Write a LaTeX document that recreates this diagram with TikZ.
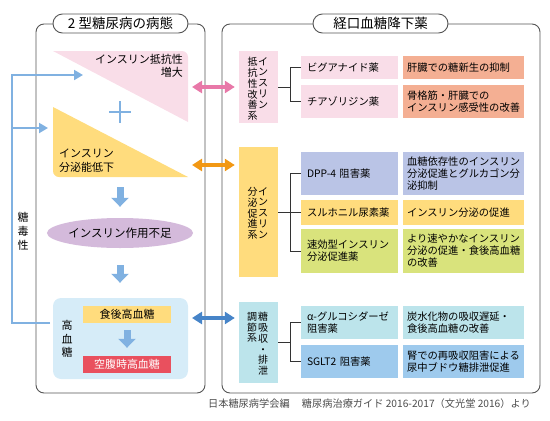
\documentclass[tikz,border=0pt]{standalone}
\usepackage{fontspec}
\setmainfont{Noto Sans CJK JP}
\usepackage{tikz}
\definecolor{mypink}{RGB}{249,221,232}
\definecolor{myyellow}{RGB}{255,220,125}
\definecolor{mysalmon}{RGB}{244,175,147}
\definecolor{mylavender}{RGB}{186,196,230}
\definecolor{mylime}{RGB}{217,227,124}
\definecolor{mycyan}{RGB}{188,228,235}
\definecolor{mysky}{RGB}{158,202,237}
\definecolor{mylightblue}{RGB}{214,236,248}
\definecolor{mypurple}{RGB}{212,186,219}
\definecolor{myred}{RGB}{233,80,94}
\definecolor{myarrowblue}{RGB}{128,177,225}
\definecolor{mypinkarrow}{RGB}{232,120,168}
\definecolor{myorange}{RGB}{242,152,20}
\definecolor{mydarkblue}{RGB}{70,132,200}
\definecolor{myframe}{RGB}{85,85,85}
\usetikzlibrary{arrows.meta,shapes.geometric,calc}

\begin{document}
\begin{tikzpicture}[x=1pt,y=-1pt,
    every node/.style={inner sep=0pt},
    panel/.style={draw=myframe,line width=0.9pt,rounded corners=8pt},
    pill/.style={draw=myframe,line width=0.9pt,fill=white,rounded corners=9.5pt,
      minimum width=135pt,minimum height=19pt,font=\fontsize{13.5}{15}\selectfont},
    drug/.style={minimum height=#1,text width=85pt,inner xsep=6pt,align=left,
      font=\fontsize{10.3}{12}\selectfont},
    effect/.style={minimum height=#1,text width=113pt,inner xsep=4pt,align=left,
      font=\fontsize{10.3}{12}\selectfont},
    catbox/.style={minimum width=39pt,minimum height=#1},
    tate/.style={align=center,font=\fontsize{10}{10.8}\selectfont},
    dblarrow/.style={line width=4pt,{Triangle[width=12pt,length=10pt]}-{Triangle[width=12pt,length=10pt]}},
    downarrow/.style={myarrowblue,line width=7pt,-{Triangle[width=17pt,length=9pt]}},
    fbline/.style={myarrowblue,line width=2pt,-{Triangle[width=10pt,length=9pt]}},
    bracket/.style={draw=black!80,line width=0.8pt}
    ]
    \useasboundingbox (0,0) rectangle (550,421);

    % the two panels
    \draw[panel] (36,24) rectangle (205,393);
    \draw[panel] (222,24) rectangle (540,393);
    \node[pill] (lefttitle) at (120.5,23.5) {2 型糖尿病の病態};
    \node[pill] (righttitle) at (380.5,23.5) {経口血糖降下薬};

    % the triangles
    \fill[mypink] (53,51) -- (180,51) [rounded corners=6pt] -- (188,51) -- (188,70)
      [sharp corners] -- (188,122) -- cycle;
    \fill[myyellow] (53,107) -- (53,160) [rounded corners=6pt] -- (53,177) -- (80,177)
      [sharp corners] -- (188,177) -- cycle;
    \node[font=\fontsize{11}{13.5}\selectfont,align=right,anchor=north east] (restext)
      at (183,54) {インスリン抵抗性\\増大};
    \node[font=\fontsize{11}{13.5}\selectfont,align=left,anchor=west] (sectext)
      at (59,160.5) {インスリン\\分泌能低下};
    \draw[myarrowblue,line width=1.3pt] (109,112) -- (131,112) (120,101) -- (120,123);
    \coordinate (tribase) at (120,177);

    % the lack of insulin
    \node[ellipse,fill=mypurple,minimum width=126pt,minimum height=30pt,
      font=\fontsize{11.5}{13}\selectfont] (lack) at (120,233) {インスリン作用不足};

    % the hyperglycemia
    \node[fill=mylightblue,rounded corners=8pt,minimum width=135pt,minimum height=81pt]
      (hgbox) at (120.5,338.5) {};
    \node[tate,font=\fontsize{11}{13.5}\selectfont] (hgtext) at (67,339) {高\\血\\糖};
    \node[fill=myyellow,minimum width=88pt,minimum height=17pt,
      font=\fontsize{11}{12}\selectfont] (post) at (127,314.5) {食後高血糖};
    \node[fill=myred,text=white,minimum width=88pt,minimum height=17pt,
      font=\fontsize{11}{12}\selectfont] (fast) at (127,364.5) {空腹時高血糖};

    \draw[downarrow,shorten <=10pt,shorten >=11pt] (tribase) -- (lack.north);
    \draw[downarrow,shorten <=17pt,shorten >=15pt] (lack.south) -- (lack.south |- hgbox.north);
    \draw[downarrow,shorten <=7pt,shorten >=8pt] (post) -- (fast);

    % the glucose toxicity
    \node[tate,font=\fontsize{11}{14}\selectfont] (toxic) at (23,231) {糖\\毒\\性};
    \coordinate (fbstart) at (50,323);
    \draw[fbline] (fbstart) -- (12,323) -- (12,75) -- (83,75);
    \draw[fbline] (12,128) -- (48,128);

    % the classes of drugs
    \node[catbox=72pt,fill=mypink] (cat1) at (258.5,87) {};
    \node[catbox=130pt,fill=myyellow] (cat2) at (258.5,212) {};
    \node[catbox=81pt,fill=mycyan] (cat3) at (258.5,342.5) {};
    \node[tate,anchor=north] (cat1r) at (263,57) {イ\\ン\\ス\\リ\\ン};
    \node[tate,anchor=north] (cat1l) at (252.5,57) {抵\\抗\\性\\改\\善\\系};
    \node[tate,anchor=north] (cat2r) at (263,187) {イ\\ン\\ス\\リ\\ン};
    \node[tate,anchor=north] (cat2l) at (252.5,187) {分\\泌\\促\\進\\系};
    \node[tate,anchor=north] (cat3r) at (263,312) {糖\\吸\\収\\・\\排\\泄};
    \node[tate,anchor=north] (cat3l) at (252,312) {調\\節\\系};

    % the drugs
    \node[drug=23pt,fill=mypink] (d1) at (349.5,67.5) {ビグアナイド薬};
    \node[drug=33pt,fill=mypink] (d2) at (349.5,101.5) {チアゾリジン薬};
    \node[drug=43pt,fill=mylavender] (d3) at (349.5,173.5) {DPP-4 阻害薬};
    \node[drug=25pt,fill=myyellow] (d4) at (349.5,212.5) {スルホニル尿素薬};
    \node[drug=44pt,fill=mylime] (d5) at (349.5,251) {速効型インスリン\\分泌促進薬};
    \node[drug=33pt,fill=mycyan] (d6) at (349.5,322.5) {α-グルコシダーゼ\\阻害薬};
    \node[drug=33pt,fill=mysky] (d7) at (349.5,361.5) {SGLT2 阻害薬};

    % the effects
    \node[effect=23pt,fill=mysalmon] (e1) at (463.5,67.5) {肝臓での糖新生の抑制};
    \node[effect=33pt,fill=mysalmon] (e2) at (463.5,101.5) {骨格筋・肝臓での\\インスリン感受性の改善};
    \node[effect=43pt,fill=mylavender] (e3) at (463.5,173.5) {血糖依存性のインスリン\\分泌促進とグルカゴン分\\泌抑制};
    \node[effect=25pt,fill=myyellow] (e4) at (463.5,212.5) {インスリン分泌の促進};
    \node[effect=44pt,fill=mylime] (e5) at (463.5,251) {より速やかなインスリン\\分泌の促進・食後高血糖\\の改善};
    \node[effect=33pt,fill=mycyan] (e6) at (463.5,322.5) {炭水化物の吸収遅延・\\食後高血糖の改善};
    \node[effect=33pt,fill=mysky] (e7) at (463.5,361.5) {腎での再吸収阻害による\\尿中ブドウ糖排泄促進};

    % the brackets
    \draw[bracket] (cat1.east) -- ++(12,0) coordinate (br1);
    \draw[bracket] (br1) |- (d1.west);
    \draw[bracket] (br1) |- (d2.west);
    \draw[bracket] (cat2.east) -- ++(12,0) coordinate (br2);
    \draw[bracket] (br2) |- (d3.west);
    \draw[bracket] (br2) |- (d4.west);
    \draw[bracket] (br2) |- (d5.west);
    \draw[bracket] (cat3.east) -- ++(12,0) coordinate (br3);
    \draw[bracket] (br3) |- (d6.west);
    \draw[bracket] (br3) |- (d7.west);

    % the arrows between the panels
    \coordinate (resend) at (188,87);
    \coordinate (secend) at (188,165);
    \coordinate (hgend) at (188,318);
    \draw[dblarrow,mypinkarrow,shorten <=4pt,shorten >=4pt] (resend) -- (resend -| cat1.west);
    \draw[dblarrow,myorange,shorten <=4pt,shorten >=4pt] (secend) -- (secend -| cat2.west);
    \draw[dblarrow,mydarkblue,shorten <=4pt,shorten >=4pt] (hgend) -- (hgend -| cat3.west);

    % the source
    \node[anchor=east,font=\fontsize{10.2}{11}\selectfont,text=black!70] (source) at (531,404)
      {日本糖尿病学会編\hspace{1.2em}糖尿病治療ガイド 2016-2017（文光堂 2016）より};
\end{tikzpicture}
\end{document}
